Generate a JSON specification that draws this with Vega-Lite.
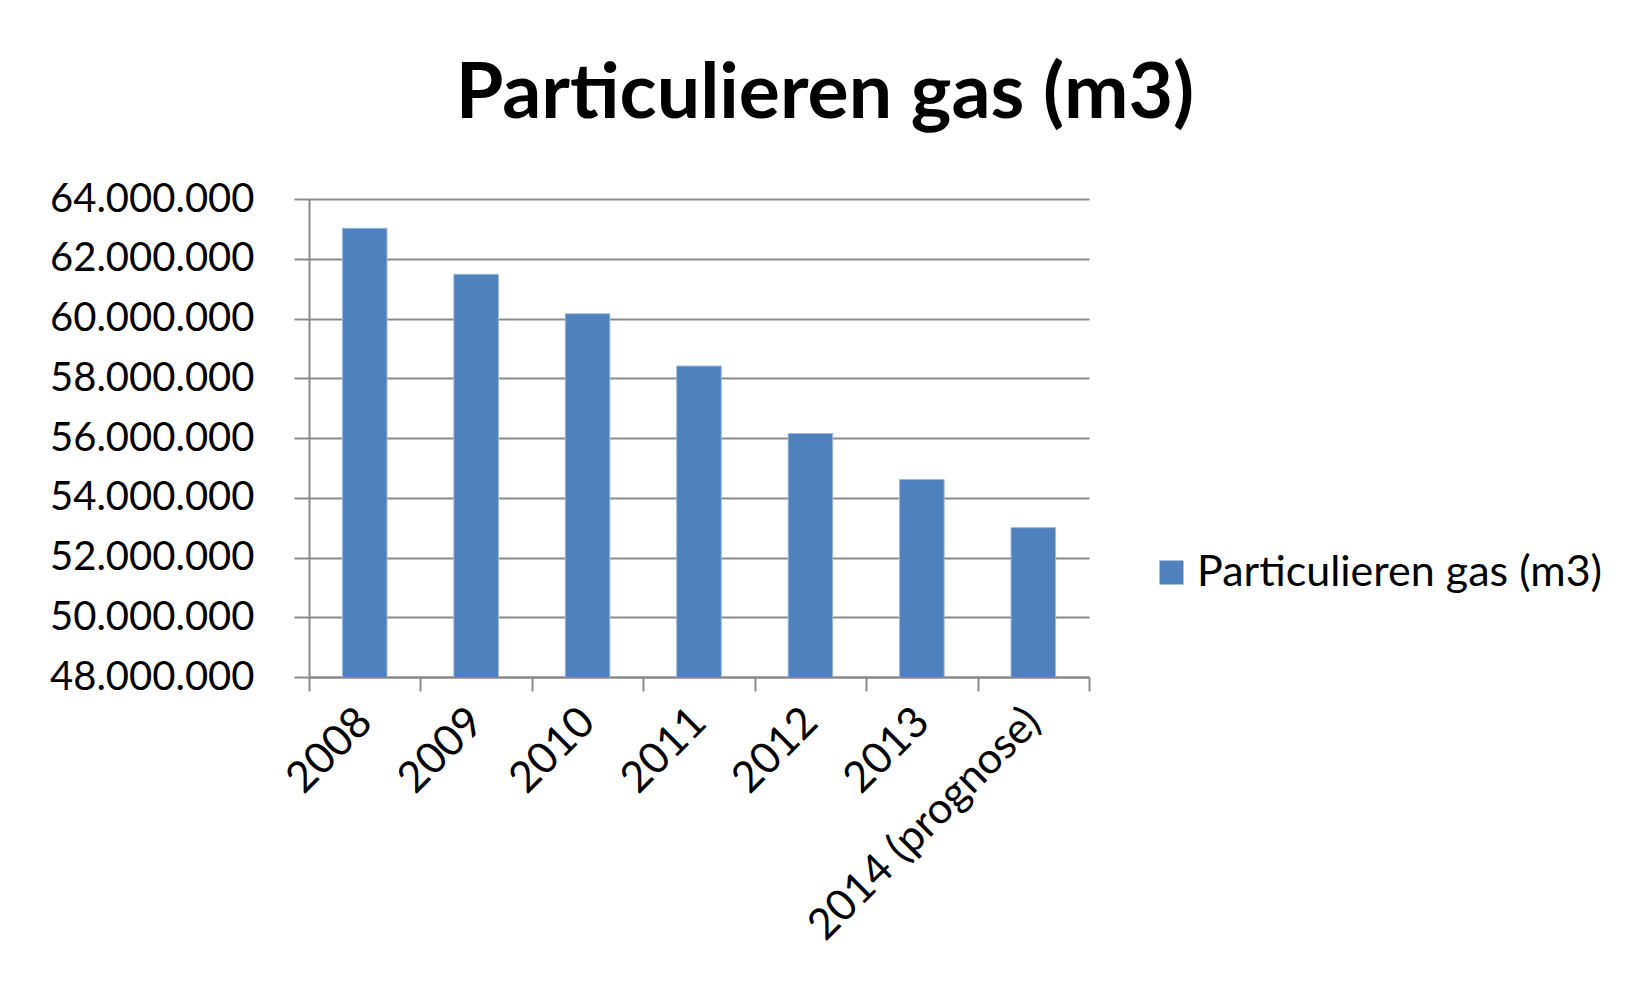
{
  "$schema": "https://vega.github.io/schema/vega-lite/v6.json",
  "width": 780,
  "height": 478,
  "autosize": {"type": "none"},
  "padding": {"left": 309, "top": 199, "right": 552, "bottom": 310},
  "background": "white",
  "config": {
    "locale": {"number": {"decimal": ",", "thousands": ".", "grouping": [3], "currency": ["€", ""]}},
    "view": {"stroke": null},
    "font": "Lato"
  },
  "title": {
    "text": "Particulieren gas (m3)",
    "font": "Lato",
    "fontWeight": "bold",
    "fontSize": 77,
    "color": "#000000",
    "anchor": "middle",
    "dx": 126,
    "baseline": "alphabetic",
    "offset": -16
  },
  "data": {
    "values": [
      {"jaar": "2008", "serie": "Particulieren gas (m3)", "waarde": 63020000},
      {"jaar": "2009", "serie": "Particulieren gas (m3)", "waarde": 61480000},
      {"jaar": "2010", "serie": "Particulieren gas (m3)", "waarde": 60160000},
      {"jaar": "2011", "serie": "Particulieren gas (m3)", "waarde": 58410000},
      {"jaar": "2012", "serie": "Particulieren gas (m3)", "waarde": 56150000},
      {"jaar": "2013", "serie": "Particulieren gas (m3)", "waarde": 54610000},
      {"jaar": "2014 (prognose)", "serie": "Particulieren gas (m3)", "waarde": 53000000}
    ]
  },
  "mark": {"type": "bar", "clip": true, "width": {"band": 0.4}, "stroke": "#9fb9dc", "strokeWidth": 1},
  "encoding": {
    "x": {
      "field": "jaar",
      "type": "nominal",
      "sort": null,
      "scale": {"paddingInner": 0, "paddingOuter": 0},
      "axis": {
        "title": null,
        "labelAngle": -45,
        "labelAlign": "right",
        "labelBaseline": "middle",
        "labelFont": "Lato",
        "labelFontSize": 43,
        "labelColor": "#000000",
        "labelPadding": 24,
        "labelLimit": 600,
        "tickBand": "extent",
        "tickSize": 14,
        "tickColor": "#8a8a8a",
        "tickWidth": 2,
        "domainColor": "#8a8a8a",
        "domainWidth": 2,
        "grid": false
      }
    },
    "y": {
      "field": "waarde",
      "type": "quantitative",
      "scale": {"domain": [48000000, 64000000], "zero": false, "nice": false},
      "axis": {
        "title": null,
        "values": [48000000, 50000000, 52000000, 54000000, 56000000, 58000000, 60000000, 62000000, 64000000],
        "format": ",.0f",
        "labelFont": "Lato",
        "labelFontSize": 40,
        "labelColor": "#000000",
        "labelPadding": 40,
        "labelLimit": 600,
        "tickSize": 15,
        "tickColor": "#8a8a8a",
        "tickWidth": 2,
        "domainColor": "#8a8a8a",
        "domainWidth": 2,
        "grid": true,
        "gridColor": "#8a8a8a",
        "gridWidth": 2
      }
    },
    "color": {
      "field": "serie",
      "type": "nominal",
      "scale": {"range": ["#4F81BD"]},
      "legend": {
        "title": null,
        "orient": "none",
        "legendX": 841,
        "legendY": 352,
        "symbolType": "square",
        "symbolSize": 576,
        "symbolStrokeWidth": 0,
        "labelFont": "Lato",
        "labelFontSize": 43,
        "labelColor": "#000000",
        "labelLimit": 600,
        "labelOffset": 4
      }
    }
  }
}
